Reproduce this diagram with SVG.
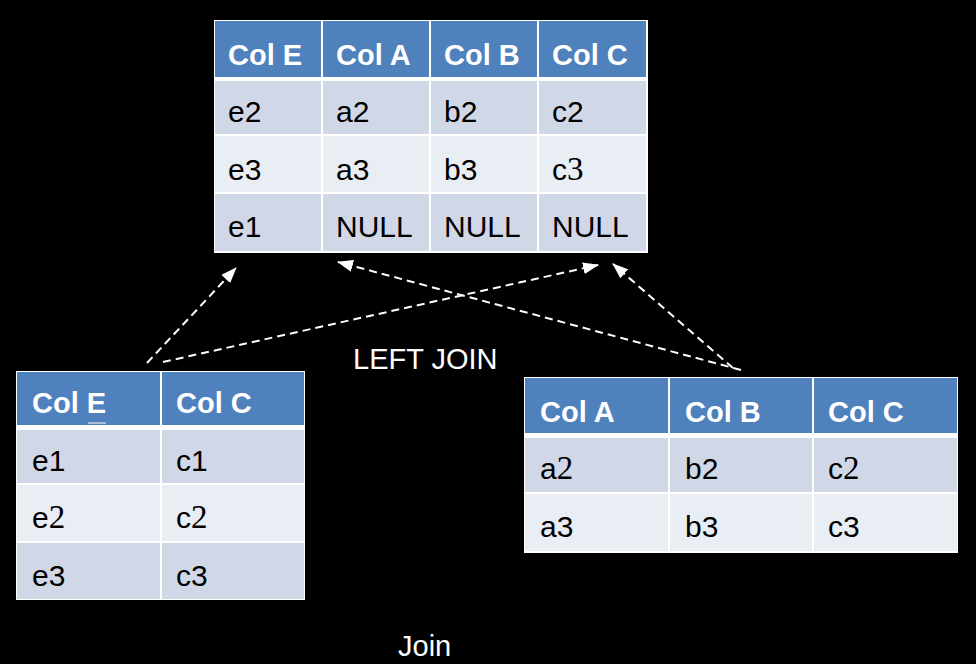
<svg xmlns="http://www.w3.org/2000/svg" width="976" height="664" viewBox="0 0 976 664">
<defs>
<style>
.bg{fill:#FFFFFF}
.h{fill:#4F81BD}
.r1{fill:#D0D8E8}
.r2{fill:#E9EDF4}
.ht{font-family:"Liberation Sans",Arial,sans-serif;font-weight:bold;font-size:29px;fill:#FFFFFF}
.bt{font-family:"Liberation Sans",Arial,sans-serif;font-size:30px;fill:#000000}
.m{font-family:"Liberation Serif","Times New Roman",serif;font-size:33px}
.lbl{font-family:"Liberation Sans",Arial,sans-serif;font-size:29px;fill:#FFFFFF}
.c{fill:none;stroke:#FFFFFF;stroke-width:2;stroke-dasharray:8 5}
</style>
<marker id="ah" viewBox="0 0 16 12" refX="15" refY="6" markerWidth="16" markerHeight="12" markerUnits="userSpaceOnUse" orient="auto">
<path d="M0,0 L16,6 L0,12 Z" fill="#FFFFFF"/>
</marker>
</defs>
<rect x="0" y="0" width="976" height="664" fill="#000000"/>

<g id="result">
<rect class="bg" x="214" y="20" width="434" height="233"/>
<rect class="h" x="215" y="21" width="106" height="56"/>
<rect class="h" x="323" y="21" width="106" height="56"/>
<rect class="h" x="431" y="21" width="106" height="56"/>
<rect class="h" x="539" y="21" width="107" height="56"/>
<rect class="r1" x="215" y="81" width="106" height="53"/>
<rect class="r1" x="323" y="81" width="106" height="53"/>
<rect class="r1" x="431" y="81" width="106" height="53"/>
<rect class="r1" x="539" y="81" width="107" height="53"/>
<rect class="r2" x="215" y="136" width="106" height="56"/>
<rect class="r2" x="323" y="136" width="106" height="56"/>
<rect class="r2" x="431" y="136" width="106" height="56"/>
<rect class="r2" x="539" y="136" width="107" height="56"/>
<rect class="r1" x="215" y="194" width="106" height="57"/>
<rect class="r1" x="323" y="194" width="106" height="57"/>
<rect class="r1" x="431" y="194" width="106" height="57"/>
<rect class="r1" x="539" y="194" width="107" height="57"/>
<text class="ht" x="228" y="65">Col E</text>
<text class="ht" x="336" y="65">Col A</text>
<text class="ht" x="444" y="65">Col B</text>
<text class="ht" x="552" y="65">Col C</text>
<text class="bt" x="228" y="122">e2</text>
<text class="bt" x="336" y="122">a2</text>
<text class="bt" x="444" y="122">b2</text>
<text class="bt" x="552" y="122">c2</text>
<text class="bt" x="228" y="180">e3</text>
<text class="bt" x="336" y="180">a3</text>
<text class="bt" x="444" y="180">b3</text>
<text class="bt" x="552" y="180">c<tspan class="m">3</tspan></text>
<text class="bt" x="228" y="237">e1</text>
<text class="bt" x="336" y="237">NULL</text>
<text class="bt" x="444" y="237">NULL</text>
<text class="bt" x="552" y="237">NULL</text>
</g>

<g id="left-table">
<rect class="bg" x="16" y="371" width="289" height="229"/>
<rect class="h" x="17" y="372" width="143" height="53"/>
<rect class="h" x="162" y="372" width="142" height="53"/>
<rect class="r1" x="17" y="430" width="143" height="53"/>
<rect class="r1" x="162" y="430" width="142" height="53"/>
<rect class="r2" x="17" y="485" width="143" height="56"/>
<rect class="r2" x="162" y="485" width="142" height="56"/>
<rect class="r1" x="17" y="543" width="143" height="56"/>
<rect class="r1" x="162" y="543" width="142" height="56"/>
<text class="ht" x="32" y="413">Col E</text>
<line x1="88" y1="423" x2="106" y2="423" stroke="#A9BCD8" stroke-width="2"/>
<text class="ht" x="176" y="413">Col C</text>
<text class="bt" x="32" y="471">e1</text>
<text class="bt" x="176" y="471">c1</text>
<text class="bt" x="32" y="528">e<tspan class="m">2</tspan></text>
<text class="bt" x="176" y="528">c<tspan class="m">2</tspan></text>
<text class="bt" x="32" y="586">e3</text>
<text class="bt" x="176" y="586">c3</text>
</g>

<g id="right-table">
<rect class="bg" x="524" y="377" width="434" height="176"/>
<rect class="h" x="525" y="378" width="143" height="55"/>
<rect class="h" x="670" y="378" width="142" height="55"/>
<rect class="h" x="814" y="378" width="143" height="55"/>
<rect class="r1" x="525" y="438" width="143" height="54"/>
<rect class="r1" x="670" y="438" width="142" height="54"/>
<rect class="r1" x="814" y="438" width="143" height="54"/>
<rect class="r2" x="525" y="494" width="143" height="57"/>
<rect class="r2" x="670" y="494" width="142" height="57"/>
<rect class="r2" x="814" y="494" width="143" height="57"/>
<text class="ht" x="540" y="422">Col A</text>
<text class="ht" x="685" y="422">Col B</text>
<text class="ht" x="828" y="422">Col C</text>
<text class="bt" x="540" y="479">a<tspan class="m">2</tspan></text>
<text class="bt" x="685" y="479">b2</text>
<text class="bt" x="828" y="479">c<tspan class="m">2</tspan></text>
<text class="bt" x="540" y="537">a3</text>
<text class="bt" x="685" y="537">b3</text>
<text class="bt" x="828" y="537">c3</text>
</g>

<g id="connectors">
<line class="c" x1="147" y1="363" x2="236" y2="268" marker-end="url(#ah)"/>
<line class="c" x1="163" y1="362" x2="598" y2="265" marker-end="url(#ah)"/>
<line class="c" x1="741" y1="370" x2="338" y2="262" marker-end="url(#ah)"/>
<line class="c" x1="733" y1="368" x2="613" y2="264" marker-end="url(#ah)"/>
</g>

<g id="labels">
<text class="lbl" x="353" y="369">LEFT JOIN</text>
<text class="lbl" x="398" y="656">Join</text>
</g>
</svg>
